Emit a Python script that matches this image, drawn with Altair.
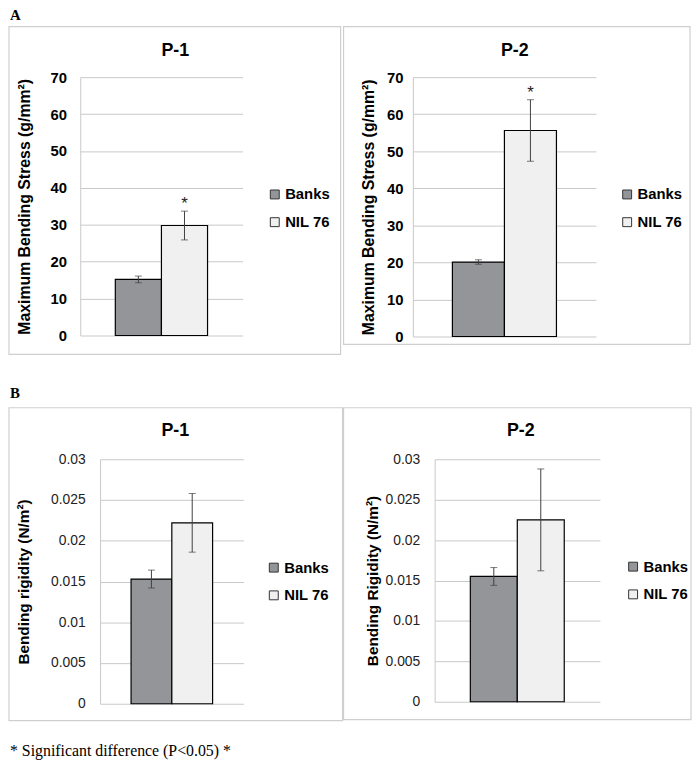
import altair as alt
import pandas as pd

# ---------------- data ----------------
genotypes = ["Banks", "NIL 76"]
bar_colors = ["#939598", "#f0f0f0"]

stress_p1_mean = [15.2, 29.8]
stress_p1_err = [0.9, 3.9]
stress_p2_mean = [20.1, 55.6]
stress_p2_err = [0.6, 8.3]

rigid_p1_mean = [0.0153, 0.0222]
rigid_p1_err = [0.0011, 0.0036]
rigid_p2_mean = [0.0155, 0.0225]
rigid_p2_err = [0.0011, 0.0063]

sig_stress = ["", "*"]
sig_rigid = ["", ""]

stress_ticks = [0, 10, 20, 30, 40, 50, 60, 70]
rigid_ticks = [0, 0.005, 0.01, 0.015, 0.02, 0.025, 0.03]

panel_titles = ["P-1", "P-2", "P-1", "P-2"]
stress_title = "Maximum Bending Stress (g/mm²)"
rigid_titles = ["Bending rigidity (N/m²)", "Bending Rigidity (N/m²)"]
section_labels = ["A", "B"]
footnote = "* Significant difference (P<0.05) *"

SANS = "Liberation Sans"
SERIF = "Liberation Serif"
GRID = "#c8c8c8"
BOX = "#cfcfcf"


def panel(mean, err, sig, ticks, title, ytitle, w, h, box, tpos, legpos,
          top_style, label_pad, title_pad, extras=()):
    df = pd.DataFrame({
        "genotype": genotypes,
        "mean": mean,
        "lo": [m - e for m, e in zip(mean, err)],
        "hi": [m + e for m, e in zip(mean, err)],
        "sig": sig,
    })
    one = pd.DataFrame({"k": [0]})
    yscale = alt.Scale(domain=[ticks[0], ticks[-1]], nice=False, zero=True)
    xscale = alt.Scale(domain=genotypes, paddingInner=0, paddingOuter=0.76)
    if top_style:
        lab = dict(labelFont=SANS, labelFontWeight="bold", labelFontSize=15,
                   labelColor="#000", titleFontSize=16)
    else:
        lab = dict(labelFont=SANS, labelFontWeight="normal", labelFontSize=14,
                   labelColor="#222", format="~g", titleFontSize=15.5)
    yaxis = alt.Axis(values=ticks, title=ytitle, grid=True, gridColor=GRID,
                     gridWidth=1, domain=True, domainColor=GRID, ticks=False,
                     tickSize=0, labelPadding=label_pad, titlePadding=title_pad,
                     titleFont=SANS, titleFontWeight="bold",
                     titleColor="#000", **lab)
    x = alt.X("genotype:N", scale=xscale, axis=None)

    def Y(f):
        return alt.Y(f"{f}:Q", scale=yscale, axis=yaxis)

    border = alt.Chart(one).mark_rect(fill="transparent", stroke=BOX,
                                      strokeWidth=1.2).encode(
        x=alt.value(box[0]), x2=alt.value(box[1]),
        y=alt.value(box[2]), y2=alt.value(box[3]))
    ttl = alt.Chart(one).mark_text(font=SANS, fontWeight="bold", fontSize=18,
                                   align="center", baseline="alphabetic",
                                   color="#000").encode(
        x=alt.value(tpos[0]), y=alt.value(tpos[1]), text=alt.value(title))
    bars = alt.Chart(df).mark_bar(stroke="#000", strokeWidth=1.2).encode(
        x=x, y=Y("mean"),
        color=alt.Color("genotype:N",
                        scale=alt.Scale(domain=genotypes, range=bar_colors),
                        legend=alt.Legend(
                            title=None, orient="none", legendX=legpos[0],
                            legendY=legpos[1], symbolType="square",
                            symbolSize=81, symbolStrokeColor="#333",
                            symbolStrokeWidth=1, labelFont=SANS,
                            labelFontWeight="bold", labelFontSize=15,
                            labelColor="#000", rowPadding=12, labelOffset=3,
                            padding=0)))
    rule = alt.Chart(df).mark_rule(color="#404040", strokeWidth=1).encode(
        x=x, y=Y("lo"), y2="hi:Q")
    cap_lo = alt.Chart(df).mark_tick(color="#404040", size=7, thickness=1).encode(
        x=x, y=Y("lo"))
    cap_hi = alt.Chart(df).mark_tick(color="#404040", size=7, thickness=1).encode(
        x=x, y=Y("hi"))
    star = alt.Chart(df).mark_text(font=SANS, fontSize=17, dy=-2,
                                   baseline="alphabetic", color="#222").encode(
        x=x, y=Y("hi"), text="sig:N")
    layers = [border, ttl, bars, rule, cap_lo, cap_hi, star]
    for (tx, ty, txt, font, size, weight, base) in extras:
        layers.append(alt.Chart(one).mark_text(
            font=font, fontSize=size, fontWeight=weight, align="left",
            baseline=base, color="#000").encode(
            x=alt.value(tx), y=alt.value(ty), text=alt.value(txt)))
    return alt.layer(*layers).properties(width=w, height=h)


def spacer(w):
    return alt.Chart(pd.DataFrame({"k": [0]})).mark_point(opacity=0).properties(
        width=w, height=10)


p1 = panel(stress_p1_mean, stress_p1_err, sig_stress, stress_ticks,
           panel_titles[0], stress_title, 164, 261,
           box=(-72, 263, -51, 280), tpos=(96, -21), legpos=(189, 111),
           top_style=True, label_pad=14, title_pad=18,
           extras=[(-71, -70, section_labels[0], SERIF, 15, "bold", "top")])
p2 = panel(stress_p2_mean, stress_p2_err, sig_stress, stress_ticks,
           panel_titles[1], stress_title, 185, 262,
           box=(-70, 280, -51, 270), tpos=(103, -21), legpos=(209, 111),
           top_style=True, label_pad=10, title_pad=10)
p3 = panel(rigid_p1_mean, rigid_p1_err, sig_rigid, rigid_ticks,
           panel_titles[2], rigid_titles[0], 145, 247,
           box=(-92, 245, -52, 264), tpos=(76, -23), legpos=(168, 102),
           top_style=False, label_pad=15, title_pad=19,
           extras=[(-91, -74, section_labels[1], SERIF, 15, "bold", "top"),
                   (-91, 300, footnote, SERIF, 16, "normal", "alphabetic")])
p4 = panel(rigid_p2_mean, rigid_p2_err, sig_rigid, rigid_ticks,
           panel_titles[3], rigid_titles[1], 167, 245,
           box=(-92, 259, -52, 263), tpos=(87, -23), legpos=(193, 101),
           top_style=False, label_pad=15, title_pad=5)

row1 = alt.hconcat(p1, spacer(172), p2, spacing=0, bounds="flush").resolve_scale(
    color="independent").resolve_legend(color="independent")
row2 = alt.hconcat(spacer(20), p3, spacer(193), p4, spacing=0,
                   bounds="flush").resolve_scale(
    color="independent").resolve_legend(color="independent")

# nested flush rows report no height, so the row offset is given in full
chart = alt.vconcat(row1, row2, spacing=386, bounds="flush").resolve_scale(
    color="independent").resolve_legend(color="independent").properties(
    padding={"left": 0, "right": 0, "top": -4, "bottom": 0},
    background="white"
).configure_view(stroke=None)

chart.save("out.html", embed_options={"renderer": "svg", "actions": False})
